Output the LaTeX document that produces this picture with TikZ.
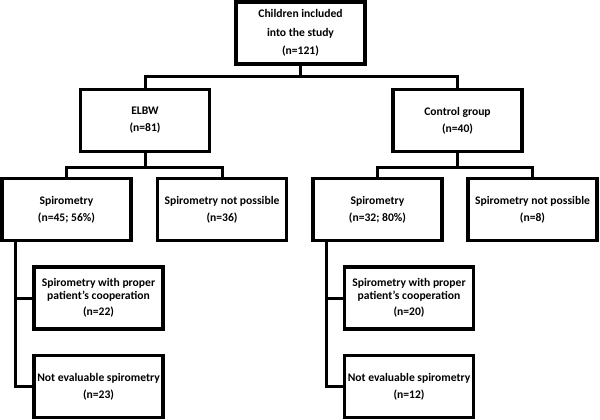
\documentclass[tikz,border=0pt]{standalone}
\usepackage{fontspec}
\setmainfont{Carlito}
\begin{document}
\begin{tikzpicture}[x=1pt,y=-1pt,
  fbox/.style={draw=black, line width=3.1pt, fill=white, minimum width=129pt, minimum height=62pt,
    inner sep=0pt, align=center, font=\bfseries\fontsize{11.6}{17}\selectfont},
  conn/.style={draw=black, line width=3pt}]
\useasboundingbox (0,0) rectangle (600,420);
\node[fbox, font=\bfseries\fontsize{11.6}{18.5}\selectfont] (top) at (300.5,33) {Children included\\into the study\\(n=121)};
\node[fbox] (elbw) at (145,120.5) {ELBW\\(n=81)};
\node[fbox] (ctrl) at (457.5,120.5) {Control group\\(n=40)};
\node[fbox] (sp1) at (66.5,209.5) {Spirometry\\(n=45; 56\%)};
\node[fbox] (np1) at (222,209.5) {Spirometry not possible\\(n=36)};
\node[fbox] (sp2) at (377.5,209.5) {Spirometry\\(n=32; 80\%)};
\node[fbox] (np2) at (532.5,209.5) {Spirometry not possible\\(n=8)};
\node[fbox] (sub1a) at (98.5,298) {Spirometry with proper\\[-4pt]patient's cooperation\\[-1pt](n=22)};
\node[fbox] (sub1b) at (98.5,386.5) {Not evaluable spirometry\\(n=23)};
\node[fbox] (sub2a) at (409,298) {Spirometry with proper\\[-4pt]patient's cooperation\\[-1pt](n=20)};
\node[fbox] (sub2b) at (409,386.5) {Not evaluable spirometry\\(n=12)};
\coordinate (j1) at (0,77);
\coordinate (j2) at (0,167);
\coordinate (v1) at (15,0);
\coordinate (v2) at (326,0);
\draw[conn] (top.south) -- (top.south |- j1) -| (elbw.north);
\draw[conn] (top.south |- j1) -| (ctrl.north);
\draw[conn] (elbw.south) -- (elbw.south |- j2) -| (sp1.north);
\draw[conn] (elbw.south |- j2) -| (np1.north);
\draw[conn] (ctrl.south) -- (ctrl.south |- j2) -| (sp2.north);
\draw[conn] (ctrl.south |- j2) -| (np2.north);
\draw[conn] (sp1.south -| v1) |- (sub1a.west);
\draw[conn] (sp1.south -| v1) |- (sub1b.west);
\draw[conn] (sp2.south -| v2) |- (sub2a.west);
\draw[conn] (sp2.south -| v2) |- (sub2b.west);
\end{tikzpicture}
\end{document}
